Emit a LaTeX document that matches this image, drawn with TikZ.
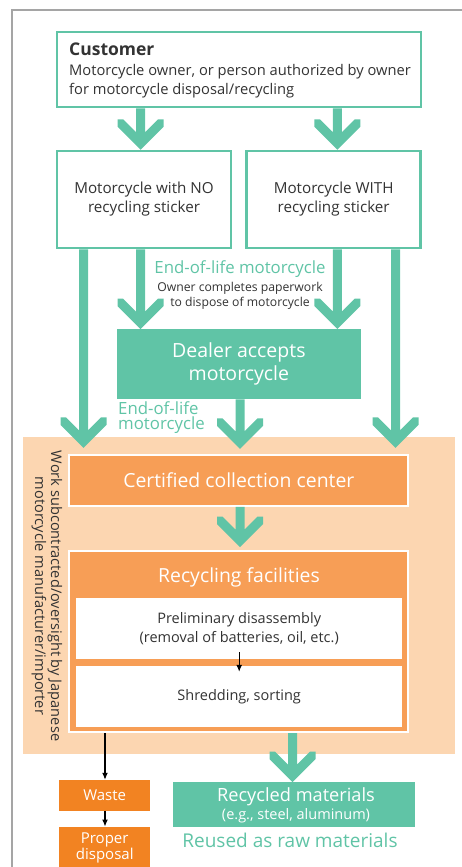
\documentclass[tikz,border=0pt]{standalone}
\usepackage{fontspec}
\setmainfont{Open Sans}
\usetikzlibrary{calc,arrows.meta}
\definecolor{tealc}{RGB}{96,196,166}
\definecolor{orbox}{RGB}{247,158,86}
\definecolor{peach}{RGB}{252,214,177}
\definecolor{ordark}{RGB}{242,131,34}
\definecolor{txt}{RGB}{51,51,51}
\definecolor{framec}{RGB}{165,165,165}
\newcommand\chev[2]{%
  \fill[tealc] let \p1=#1, \p2=#2 in
    (\x1-4.5pt,\y1) -- (\x1-4.5pt,\y2+17.5pt) -- (\x1-17.5pt,\y2+30.5pt) --
    (\x1-23pt,\y2+30.5pt) -- (\x1-23pt,\y2+23pt) -- (\x1,\y2) --
    (\x1+23pt,\y2+23pt) -- (\x1+23pt,\y2+30.5pt) -- (\x1+17.5pt,\y2+30.5pt) --
    (\x1+4.5pt,\y2+17.5pt) -- (\x1+4.5pt,\y1) -- cycle;}
\tikzset{
  outlinebox/.style={draw=tealc, line width=2.5pt, fill=white, inner sep=0pt, minimum width=#1},
  tealbox/.style={fill=tealc, inner sep=0pt, text=white, align=center},
  orgbox/.style={fill=orbox, draw=white, line width=2pt, inner sep=0pt, text=white, align=center},
  whitebox/.style={fill=white, inner sep=0pt, text=txt, align=center},
  darkbox/.style={fill=ordark, inner sep=0pt, text=white, align=center},
  blk/.style={line width=1.1pt, -{Latex[length=7pt,width=6pt]}},
  lbl/.style={inner sep=0pt, text=txt},
  tlbl/.style={inner sep=0pt, text=tealc},
}
\begin{document}
\begin{tikzpicture}[x=1pt,y=-1pt]
\useasboundingbox (0,0) rectangle (461,867);
% frame
\coordinate (fb) at (12,868);
\coordinate (fc) at (12,10);
\coordinate (fr) at (462,10);
\draw[framec, line width=1.5pt] (fb) -- (fc) -- (fr);
% peach background
\fill[peach] (22.7,436.7) rectangle (455,754);
% customer
\node[outlinebox=364pt, minimum height=75pt] (cust) at (239,69.5) {};
\node[lbl, anchor=base west, font=\fontsize{17.5}{22}\selectfont\bfseries] (custT) at (69,56) {Customer};
\node[lbl, anchor=base west, font=\fontsize{14.7}{18}\selectfont] (custD1) at (69,75) {Motorcycle owner, or person authorized by owner};
\node[lbl, anchor=base west, font=\fontsize{14.7}{18}\selectfont] (custD2) at (69,94) {for motorcycle disposal/recycling};
% two boxes
\node[outlinebox=174pt, minimum height=97pt, align=center, text=txt, font=\fontsize{15.2}{19}\selectfont] (nobox) at (144,199.5) {Motorcycle with NO\\recycling sticker};
\node[outlinebox=174pt, minimum height=97pt, align=center, text=txt, font=\fontsize{15.2}{19}\selectfont] (withbox) at (333.7,199.5) {Motorcycle WITH\\recycling sticker};
% dealer
\node[tealbox, minimum width=244pt, minimum height=70pt, font=\fontsize{19.5}{23}\selectfont] (dealer) at (238.9,364.2) {Dealer accepts\\motorcycle};
% labels
\node[tlbl, anchor=base, font=\fontsize{16.8}{19}\selectfont] (eol1) at (240,273) {End-of-life motorcycle};
\node[lbl, anchor=base, font=\fontsize{12.2}{15}\selectfont] (own1) at (240,291.5) {Owner completes paperwork};
\node[lbl, anchor=base, font=\fontsize{12.2}{15}\selectfont] (own2) at (240,306.5) {to dispose of motorcycle};
\node[tlbl, anchor=base west, font=\fontsize{16.8}{15}\selectfont] (eol2a) at (118,414) {End-of-life};
\node[tlbl, anchor=base west, font=\fontsize{16.8}{15}\selectfont] (eol2b) at (118,429.5) {motorcycle};
% orange region
\node[orgbox, minimum width=339pt, minimum height=51pt, font=\fontsize{19.4}{23}\selectfont] (cert) at (238.8,480.4) {Certified collection center};
\node[orgbox, minimum width=339pt, minimum height=181pt] (recyc) at (238.8,641.7) {};
\node[inner sep=0pt, text=white, anchor=base, font=\fontsize{19.4}{23}\selectfont] (recycT) at (239,582) {Recycling facilities};
\node[whitebox, minimum width=326.3pt, minimum height=60.7pt, font=\fontsize{14.5}{19}\selectfont] (prelim) at (239.2,628.7) {Preliminary disassembly\\(removal of batteries, oil, etc.)};
\node[whitebox, minimum width=326.3pt, minimum height=60.7pt, font=\fontsize{14.5}{19}\selectfont] (shred) at (239.2,696.3) {Shredding, sorting};
\node[inner sep=0pt, text=txt, rotate=-90, align=center, font=\fontsize{14.6}{16}\selectfont] (side) at (47,596) {Work subcontracted/oversight by Japanese\\motorcycle manufacturer/importer};
% bottom
\node[darkbox, minimum width=90.7pt, minimum height=30.7pt, font=\fontsize{15}{18}\selectfont] (waste) at (104.7,795.3) {Waste};
\node[darkbox, minimum width=90.7pt, minimum height=42pt, font=\fontsize{15}{14}\selectfont] (proper) at (104.7,847.7) {Proper\\disposal};
\node[tealbox, minimum width=242pt, minimum height=44.4pt] (recmat) at (294,804.5) {};
\node[inner sep=0pt, text=white, anchor=base, font=\fontsize{18.2}{20}\selectfont] (recmatT) at (296,801.7) {Recycled materials};
\node[inner sep=0pt, text=white, anchor=base, font=\fontsize{14.5}{15}\selectfont] (recmatS) at (296,819) {(e.g., steel, aluminum)};
\node[tlbl, anchor=base, font=\fontsize{19}{23}\selectfont] (reused) at (290,847.7) {Reused as raw materials};
% x positions
\coordinate (xa) at (140.5,0);
\coordinate (xb) at (337.3,0);
\coordinate (xL) at (83.5,0);
\coordinate (xR) at (395.5,0);
\coordinate (xc) at (240,0);
\coordinate (xm) at (292.5,0);
\coordinate (xw) at (105,0);
% chevron arrows
\chev{(cust.south -| xa)}{(nobox.north -| xa)}
\chev{(cust.south -| xb)}{(withbox.north -| xb)}
\chev{(nobox.south -| xL)}{($(cert.north -| xL)+(0,-6)$)}
\chev{(nobox.south -| xa)}{(dealer.north -| xa)}
\chev{(withbox.south -| xb)}{(dealer.north -| xb)}
\chev{(withbox.south -| xR)}{($(cert.north -| xR)+(0,-6)$)}
\chev{(dealer.south -| xc)}{($(cert.north -| xc)+(0,-5)$)}
\chev{(cert.south -| xc)}{($(recyc.north -| xc)+(0,-3)$)}
\chev{(recyc.south -| xm)}{(recmat.north -| xm)}
% black arrows
\draw[blk] ($(prelim.south)+(0,-7)$) -- ($(shred.north)+(0,6)$);
\draw[blk] (recyc.south -| xw) -- (waste.north -| xw);
\draw[blk] (waste.south -| xw) -- (proper.north -| xw);
\end{tikzpicture}
\end{document}
